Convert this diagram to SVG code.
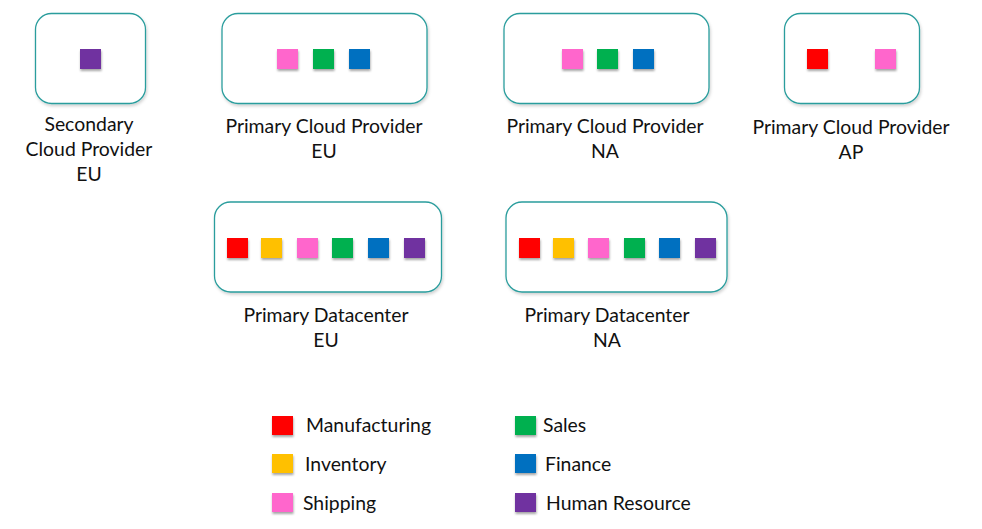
<svg xmlns="http://www.w3.org/2000/svg" width="982" height="529" viewBox="0 0 982 529">
<defs>
<filter id="sh" x="-30%" y="-30%" width="160%" height="170%">
<feDropShadow dx="0.5" dy="2" stdDeviation="1" flood-color="#000" flood-opacity="0.35"/>
</filter>
<filter id="bsh" x="-10%" y="-10%" width="120%" height="125%">
<feDropShadow dx="1" dy="2" stdDeviation="1.5" flood-color="#000" flood-opacity="0.18"/>
</filter>
</defs>
<style>
.box{fill:#fff;stroke:#2a9d9d;stroke-width:1.3;filter:url(#bsh)}
.sq{filter:url(#sh)}
.r{fill:#ff0000}.o{fill:#ffc000}.p{fill:#ff66cc}.g{fill:#00b050}.b{fill:#0070c0}.v{fill:#7030a0}
text{font-family:"Lato","Liberation Sans",sans-serif;font-size:19.4px;fill:#111}
.c{text-anchor:middle}
</style>
<rect width="982" height="529" fill="#fff"/>
<g id="secondary-eu">
<rect class="box" x="35.5" y="13.5" width="110" height="90" rx="16"/>
<rect class="sq v" x="80" y="49" width="21" height="20"/>
<text class="c" x="89" y="131">Secondary</text>
<text class="c" x="89" y="156">Cloud Provider</text>
<text class="c" x="89" y="181">EU</text>
</g>
<g id="primary-cloud-eu">
<rect class="box" x="222" y="13.5" width="205" height="90" rx="16"/>
<rect class="sq p" x="277" y="49" width="21" height="20"/>
<rect class="sq g" x="313" y="49" width="21" height="20"/>
<rect class="sq b" x="349" y="49" width="21" height="20"/>
<text class="c" x="324" y="133">Primary Cloud Provider</text>
<text class="c" x="324" y="158">EU</text>
</g>
<g id="primary-cloud-na">
<rect class="box" x="504" y="13.5" width="205" height="90" rx="16"/>
<rect class="sq p" x="562" y="49" width="21" height="20"/>
<rect class="sq g" x="597" y="49" width="21" height="20"/>
<rect class="sq b" x="633" y="49" width="21" height="20"/>
<text class="c" x="605" y="133">Primary Cloud Provider</text>
<text class="c" x="605" y="158">NA</text>
</g>
<g id="primary-cloud-ap">
<rect class="box" x="784.5" y="13.5" width="135" height="90" rx="16"/>
<rect class="sq r" x="807" y="49" width="21" height="20"/>
<rect class="sq p" x="875" y="49" width="21" height="20"/>
<text class="c" x="851" y="134">Primary Cloud Provider</text>
<text class="c" x="851" y="159">AP</text>
</g>
<g id="datacenter-eu">
<rect class="box" x="214.5" y="202" width="227" height="90" rx="16"/>
<rect class="sq r" x="227" y="238" width="21" height="20"/>
<rect class="sq o" x="261" y="238" width="21" height="20"/>
<rect class="sq p" x="297" y="238" width="21" height="20"/>
<rect class="sq g" x="332" y="238" width="21" height="20"/>
<rect class="sq b" x="368" y="238" width="21" height="20"/>
<rect class="sq v" x="404" y="238" width="21" height="20"/>
<text class="c" x="326" y="322">Primary Datacenter</text>
<text class="c" x="326" y="347">EU</text>
</g>
<g id="datacenter-na">
<rect class="box" x="506" y="202" width="221" height="90" rx="16"/>
<rect class="sq r" x="519" y="238" width="21" height="20"/>
<rect class="sq o" x="553" y="238" width="21" height="20"/>
<rect class="sq p" x="588" y="238" width="21" height="20"/>
<rect class="sq g" x="624" y="238" width="21" height="20"/>
<rect class="sq b" x="659" y="238" width="21" height="20"/>
<rect class="sq v" x="695" y="238" width="21" height="20"/>
<text class="c" x="607" y="322">Primary Datacenter</text>
<text class="c" x="607" y="347">NA</text>
</g>
<g id="connectors"></g>
<g id="legend">
<rect class="sq r" x="272" y="416" width="21" height="19"/>
<text x="306" y="432">Manufacturing</text>
<rect class="sq o" x="272" y="454" width="21" height="19"/>
<text x="305" y="471">Inventory</text>
<rect class="sq p" x="272" y="493" width="21" height="19"/>
<text x="303" y="510">Shipping</text>
<rect class="sq g" x="515" y="416" width="21" height="19"/>
<text x="543" y="432">Sales</text>
<rect class="sq b" x="515" y="454" width="21" height="19"/>
<text x="545" y="471">Finance</text>
<rect class="sq v" x="515" y="493" width="21" height="19"/>
<text x="546" y="510">Human Resource</text>
</g>
</svg>
